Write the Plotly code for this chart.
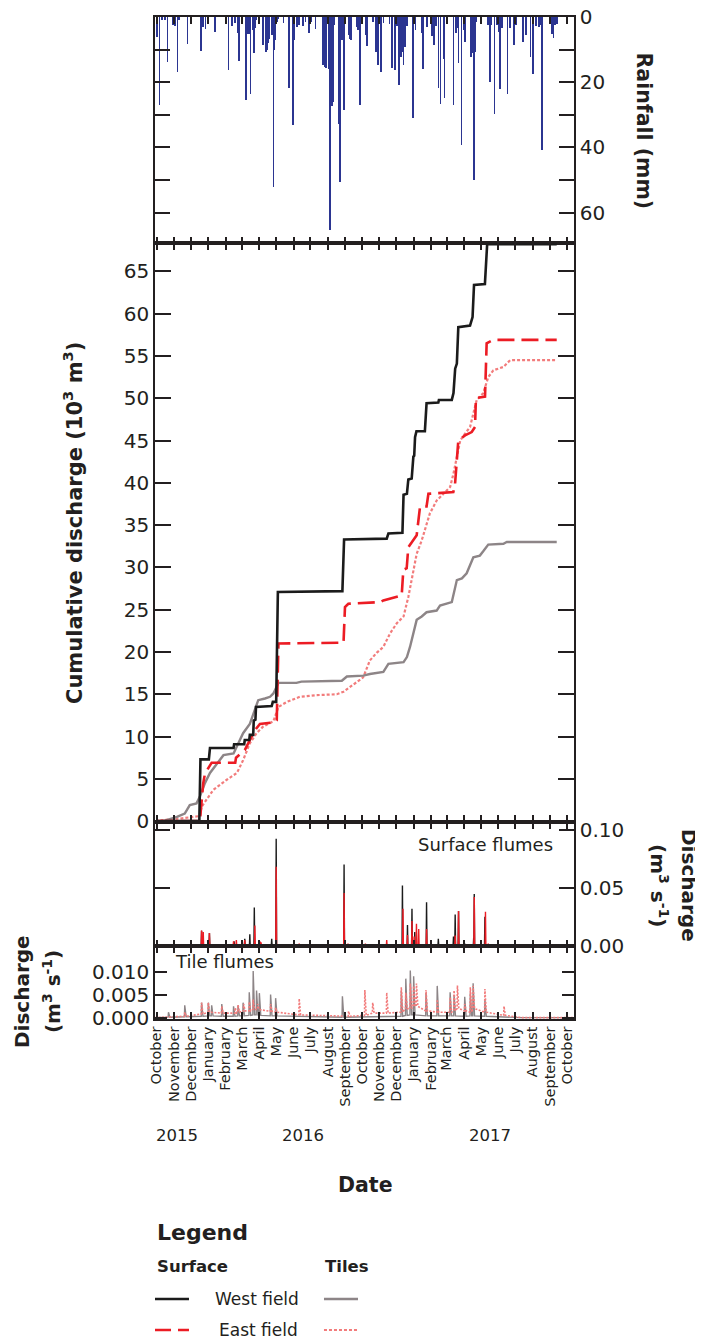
import pandas as pd
import plotly.graph_objects as go
from plotly.subplots import make_subplots

START = pd.Timestamp("2015-10-01")
X_RANGE = ["2015-09-28", "2017-10-13 19:00"]

# ---------------- data (day offsets from 2015-10-01) ----------------
rain_day = [
    1, 5, 9, 15, 19, 29, 33, 37, 40, 55,
    78, 80, 82, 87, 104, 128, 134, 135, 140, 144,
    147, 159, 162, 165, 167, 171, 173, 175, 177, 189,
    195, 197, 199, 201, 206, 208, 210, 211, 214, 217,
    226, 236, 243, 245, 250, 254, 261, 265, 272, 276,
    283, 296, 300, 302, 306, 309, 312, 315, 317, 325,
    327, 330, 334, 342, 345, 346, 357, 359, 362, 364,
    372, 375, 386, 391, 395, 400, 404, 415, 420, 425,
    428, 431, 432, 435, 438, 440, 443, 446, 457, 461,
    473, 475, 482, 491, 494, 498, 502, 506, 511, 513,
    529, 534, 536, 538, 543, 547, 550, 560, 563, 565,
    566, 567, 570, 579, 591, 594, 597, 602, 606, 610,
    612, 615, 625, 630, 637, 640, 653, 658, 666, 671,
    676, 682, 684, 687, 704, 707, 710, 713,
]
rain_mm = [
    6.1, 27, 1, 1, 13.7, 2.5, 2.8, 16.8, 1, 8.4,
    10.4, 10.4, 3, 3.7, 4.7, 16.3, 2.8, 2.8, 1.8, 5,
    13.5, 25.5, 5.3, 5.1, 23.7, 4.1, 11.2, 3.5, 1, 8.6,
    10.7, 10, 8.1, 6.6, 5.5, 52.2, 10.2, 7, 1.5, 0.5,
    1.7, 21.7, 33.2, 7, 3, 2.5, 2.8, 1.4, 4.8, 1.5,
    3.7, 14.8, 15.3, 15.8, 16, 65.5, 27.4, 26.2, 2.5, 32.7,
    50.7, 7, 28.6, 5.5, 6.6, 7, 3, 4, 27, 2,
    5.5, 9, 1.5, 10.7, 14.7, 16.8, 1.8, 2, 15.7, 16.2,
    2.8, 10.2, 20.9, 12.2, 10.7, 14.7, 9.1, 2.8, 30.9, 4,
    4.8, 16, 3, 5.8, 8.6, 2.8, 21.8, 26.7, 13, 24.9,
    27, 5, 3.5, 14.1, 39.4, 4, 7.6, 12.2, 11.2, 50.1,
    20, 10.7, 1.5, 1.8, 2.5, 20, 2.5, 29.7, 2.5, 4.5,
    22, 3.5, 23.5, 3.5, 8.6, 2.5, 7.8, 5.5, 12.4, 17.5,
    2.8, 3, 2.5, 40.7, 5.1, 6.4, 2.5, 2,
]

# Cumulative discharge (10^3 m3)
west_surf_day = [0, 76, 78, 93, 95, 137, 138, 156, 157, 165, 166, 172, 173, 176, 177,
                 205, 207, 213, 216, 331, 334, 410, 413, 438, 440, 446, 448.5, 454.5,
                 457.5, 459, 460.5, 463, 478, 481, 502, 503, 526, 529, 532, 535, 537.6,
                 558.5, 563, 565.6, 585, 589, 713]
west_surf_cum = [0, 0, 7.3, 7.3, 8.65, 8.65, 9.1, 9.1, 9.6, 9.6, 10.2, 10.2, 11.9, 12.0, 13.5,
                 13.6, 14.1, 14.1, 27.1, 27.2, 33.3, 33.4, 34.0, 34.1, 38.6, 38.7, 40.4, 40.5,
                 43.1, 43.2, 45.4, 46.1, 46.1, 49.4, 49.5, 49.8, 49.8, 50.6, 53.5, 54.1, 58.4,
                 58.6, 59.6, 63.4, 63.5, 68.2, 68.2]

east_surf_day = [0, 77, 83, 86, 95, 98, 140, 141.4, 157, 166, 175, 184, 211, 214, 217, 333,
                 335.6, 341.6, 398, 404, 436.7, 439.6, 445.6, 448.5, 457.5, 463.4, 469.4,
                 481, 484.3, 528.7, 531.7, 537.6, 549.5, 561.5, 567.4, 569, 585.2, 588.1,
                 600, 713]
east_surf_cum = [0, 0, 4.5, 5.6, 6.6, 6.9, 6.9, 7.5, 8.4, 9.6, 10.75, 11.5, 11.7, 11.9, 21.0,
                 21.1, 25.3, 25.7, 25.9, 26.1, 26.7, 29.7, 29.9, 32.4, 33.2, 33.8, 37.2, 37.2,
                 38.7, 38.9, 39.8, 45.0, 45.6, 46.0, 46.6, 50.0, 50.2, 56.5, 56.9, 56.9]

west_tile_day = [-2, 12, 36, 50, 59, 71, 77, 86, 95, 107, 119, 137, 145.5, 154, 166, 172, 181,
                 193, 202, 208, 217, 249, 258, 330, 339, 368, 380, 404, 413, 440, 446, 451.5,
                 457.5, 463.4, 472.4, 481, 499, 505, 526, 535, 544, 552.5, 564.4, 576, 582,
                 591, 618, 624, 713]
west_tile_cum = [0, 0, 0.5, 0.9, 1.9, 2.1, 2.9, 4.5, 5.7, 6.8, 7.8, 8.0, 9.2, 10.4, 11.5, 12.7,
                 14.3, 14.5, 14.7, 15.1, 16.35, 16.35, 16.5, 16.6, 17.1, 17.2, 17.4, 17.65, 18.6,
                 18.8, 19.4, 20.6, 22.2, 23.8, 24.2, 24.7, 24.9, 25.5, 25.9, 28.5, 28.7, 29.3,
                 31.2, 31.4, 31.9, 32.7, 32.8, 33.0, 33.0]

east_tile_day = [-2, 6, 40, 77, 80, 89, 101, 125, 143, 154, 166, 178, 190, 208, 217, 232, 255,
                 285, 321, 333, 345, 368, 380, 392, 404, 416, 428, 440, 448.5, 457.5, 463.4,
                 472.4, 487, 499, 511, 523, 529, 535, 541, 549.5, 558.5, 564.4, 570.4, 582,
                 591, 600, 618, 630, 713]
east_tile_cum = [0, 0.1, 0.3, 0.6, 1.7, 2.5, 3.7, 4.9, 5.7, 7.2, 9.2, 10.4, 11.2, 11.8, 13.5,
                 14.1, 14.7, 14.9, 15.0, 15.3, 15.9, 17.0, 19.0, 19.9, 20.6, 22.2, 23.4, 24.2,
                 26.5, 29.7, 31.6, 33.2, 36.4, 37.9, 38.7, 39.5, 41.1, 43.1, 45.0, 45.8, 46.6,
                 48.2, 49.8, 50.6, 52.5, 53.3, 53.7, 54.5, 54.5]

# Surface flume discharge peaks (m3 s-1)
west_peak_day = [80, 94, 138, 157, 166, 174, 184, 205, 213, 334, 438, 447, 455, 460, 481,
                 502, 529, 532, 538, 549, 565, 566, 585]
west_peak = [0.013, 0.011, 0.004, 0.006, 0.010, 0.033, 0.003, 0.006, 0.092, 0.070, 0.052,
             0.018, 0.032, 0.012, 0.0375, 0.006, 0.008, 0.027, 0.030, 0.002, 0.007, 0.0446,
             0.025]
east_peak_day = [80, 83, 94, 137, 142, 157, 175, 184, 186, 213, 254, 334, 341, 372, 410, 439,
                 447, 455, 459, 463, 467, 481, 532, 538, 566, 586, 591]
east_peak = [0.0131, 0.012, 0.011, 0.004, 0.005, 0.005, 0.0175, 0.004, 0.003, 0.068, 0.002,
             0.0455, 0.002, 0.002, 0.005, 0.032, 0.0094, 0.0214, 0.008, 0.019, 0.0146, 0.0146,
             0.009, 0.030, 0.042, 0.0294, 0.002]

# Tile flume discharge events (m3 s-1): day, peak, base level around the event
west_tev_day = [21, 50, 80, 92, 98, 116, 137, 145, 154, 165,
                172, 178, 183, 203, 212, 331, 436, 444, 452, 458,
                480, 500, 523, 530, 549, 559, 564, 585]
west_tev_peak = [0.0012, 0.0027, 0.0033, 0.0033, 0.0027, 0.0030, 0.0025, 0.0027, 0.0033, 0.0056,
                 0.0103, 0.0060, 0.0054, 0.0051, 0.0043, 0.0047, 0.0060, 0.0086, 0.0104, 0.0091,
                 0.0055, 0.0070, 0.0056, 0.0050, 0.0046, 0.0055, 0.0076, 0.0040]
west_tev_base = [0.0001, 0.0002, 0.0003, 0.0004, 0.0004, 0.0003, 0.0003, 0.0004, 0.0004, 0.0005,
                 0.0006, 0.0006, 0.0005, 0.0004, 0.0004, 0.0001, 0.0003, 0.0005, 0.0006, 0.0006,
                 0.0004, 0.0004, 0.0004, 0.0004, 0.0003, 0.0004, 0.0004, 0.0003]
east_tev_day = [50, 80, 92, 116, 140, 145, 155, 165, 172, 180,
                203, 212, 254, 342, 371, 385, 410, 436, 444, 452,
                458, 463, 480, 500, 523, 530, 536, 549, 559, 564,
                585, 619]
east_tev_peak = [0.0012, 0.0033, 0.0033, 0.0025, 0.0022, 0.0028, 0.0030, 0.0035, 0.0040, 0.0030,
                 0.0030, 0.0022, 0.0042, 0.0014, 0.0061, 0.0033, 0.0055, 0.0067, 0.0055, 0.0075,
                 0.0070, 0.0075, 0.0061, 0.0040, 0.0045, 0.0060, 0.0071, 0.0030, 0.0067, 0.0070,
                 0.0063, 0.0025]
east_tev_base = [0.0003, 0.0008, 0.0012, 0.0010, 0.0010, 0.0012, 0.0015, 0.0015, 0.0018, 0.0018,
                 0.0014, 0.0012, 0.0006, 0.0003, 0.0005, 0.0010, 0.0010, 0.0012, 0.0020, 0.0020,
                 0.0025, 0.0025, 0.0015, 0.0012, 0.0012, 0.0015, 0.0020, 0.0015, 0.0012, 0.0020,
                 0.0012, 0.0005]

month_ticks = pd.date_range("2015-10-01", "2017-10-01", freq="MS")
month_labels = [d.strftime("%B") for d in month_ticks]
year_labels = ["2015", "2016", "2017"]

# ---------------- helpers ----------------
def dates(days):
    return START + pd.to_timedelta(days, unit="D")


def spike_series(days, peaks):
    xs, ys = [-3.0], [0.0]
    for d, p in sorted(zip(days, peaks)):
        xs += [d - 0.7, d, d + 0.7]
        ys += [0.0, p, 0.0]
    xs.append(744.0)
    ys.append(0.0)
    return xs, ys


def event_series(days, peaks, bases):
    xs, ys = [-3.0], [0.0]
    for d, p, b in zip(days, peaks, bases):
        xs += [d - 0.6, d, d + 2.5]
        ys += [b, p, b]
    xs += [650.0, 744.0]
    ys += [0.0, 0.0]
    return xs, ys


INK = "#231f20"
FONT = "DejaVu Sans"
BLACK = "#1b1b1b"
RED = "#ec1c24"
GRAY = "#8d8587"
PINK = "#f27c7c"
BLUE = "#2b3591"

fig = make_subplots(rows=4, cols=1, shared_xaxes=True, vertical_spacing=0)

# rainfall
fig.add_trace(go.Bar(x=dates(rain_day), y=rain_mm, width=1.2 * 86400000,
                     marker=dict(color=BLUE, line=dict(width=0)), showlegend=False),
              row=1, col=1)

# cumulative
fig.add_trace(go.Scatter(x=dates(east_tile_day), y=east_tile_cum, mode="lines",
                         line=dict(color=PINK, width=2.2, dash="3px,2px"), showlegend=False),
              row=2, col=1)
fig.add_trace(go.Scatter(x=dates(west_tile_day), y=west_tile_cum, mode="lines",
                         line=dict(color=GRAY, width=2.4), showlegend=False), row=2, col=1)
fig.add_trace(go.Scatter(x=dates(east_surf_day), y=east_surf_cum, mode="lines",
                         line=dict(color=RED, width=2.6, dash="17px,7px"), showlegend=False),
              row=2, col=1)
fig.add_trace(go.Scatter(x=dates(west_surf_day), y=west_surf_cum, mode="lines",
                         line=dict(color=BLACK, width=2.6), showlegend=False), row=2, col=1)

# surface flumes
wx, wy = spike_series(west_peak_day, west_peak)
ex, ey = spike_series(east_peak_day, east_peak)
fig.add_trace(go.Scatter(x=dates(wx), y=wy, mode="lines", line=dict(color=BLACK, width=1.4),
                         showlegend=False), row=3, col=1)
fig.add_trace(go.Scatter(x=dates(ex), y=ey, mode="lines", line=dict(color=RED, width=1.4),
                         showlegend=False), row=3, col=1)

# tile flumes
twx, twy = event_series(west_tev_day, west_tev_peak, west_tev_base)
tex, tey = event_series(east_tev_day, east_tev_peak, east_tev_base)
fig.add_trace(go.Scatter(x=dates(twx), y=twy, mode="lines",
                         line=dict(color=GRAY, width=1.4), showlegend=False), row=4, col=1)
fig.add_trace(go.Scatter(x=dates(tex), y=tey, mode="lines",
                         line=dict(color=PINK, width=1.6, dash="2px,1.5px"), showlegend=False),
              row=4, col=1)

# ---------------- axes ----------------
doms = {1: [0.774, 1.0], 2: [0.1966, 0.774], 3: [0.0724, 0.1966], 4: [0.0, 0.0724]}
for r in range(1, 5):
    fig.update_yaxes(domain=doms[r], row=r, col=1)
    fig.update_xaxes(range=X_RANGE, tickvals=month_ticks, ticktext=month_labels,
                     ticks="inside", ticklen=7, tickwidth=1.5, tickcolor=INK,
                     showline=True, linecolor=INK, linewidth=1.5, mirror="ticks",
                     showgrid=False, zeroline=False, automargin=False,
                     showticklabels=(r == 4), row=r, col=1)

fig.update_xaxes(tickangle=-90, tickfont=dict(family=FONT, size=14.5, color=INK), row=4, col=1)

common_y = dict(ticks="inside", tickwidth=1.5, tickcolor=INK, showline=True, linecolor=INK,
                linewidth=1.5, mirror="ticks", showgrid=False, zeroline=False, automargin=False,
                ticklabeloverflow="allow", tickfont=dict(family=FONT, size=20, color=INK))

fig.update_yaxes(range=[69.5, 0], side="right", tickvals=[0, 20, 40, 60], ticklen=15,
                 minor=dict(tickvals=[10, 30, 50], ticks="inside", ticklen=15, tickwidth=1.5,
                            tickcolor=INK),
                 row=1, col=1, **common_y)
fig.update_yaxes(range=[-0.1, 68.3], side="left", tickvals=list(range(0, 70, 5)), ticklen=16,
                 row=2, col=1, **common_y)
fig.update_yaxes(range=[-0.0005, 0.1065], side="right", tickvals=[0, 0.05, 0.1],
                 ticktext=["0.00", "0.05", "0.10"], ticklen=15, row=3, col=1, **common_y)
fig.update_yaxes(range=[-0.0003, 0.0157], side="left", tickvals=[0, 0.005, 0.01],
                 ticktext=["0.000", "0.005", "0.010"], ticklen=12, row=4, col=1, **common_y)

# ---------------- annotations ----------------
ann = []


def txt(text, x, y, size, xanchor="center", yanchor="middle", angle=0):
    ann.append(dict(text=text, x=x, y=y, xref="paper", yref="paper", showarrow=False,
                    xanchor=xanchor, yanchor=yanchor, textangle=angle,
                    font=dict(family=FONT, size=size, color=INK)))


txt("<b>Rainfall (mm)</b>", 1.167, 0.8857, 20.5, angle=90)
txt("<b>Cumulative discharge (10<sup>3</sup> m<sup>3</sup>)</b>", -0.1957, 0.495, 21, angle=-90)
txt("<b>Discharge</b>", 1.2745, 0.1337, 20, angle=90)
txt("<b>(m<sup>3</sup> s<sup>-1</sup>)</b>", 1.2029, 0.1337, 20, angle=90)
txt("<b>Discharge</b>", -0.3174, 0.0269, 20, angle=-90)
txt("<b>(m<sup>3</sup> s<sup>-1</sup>)</b>", -0.2458, 0.0269, 20, angle=-90)
txt("Surface flumes", 0.955, 0.1737, 18, xanchor="right")
txt("Tile flumes", 0.043, 0.0569, 18, xanchor="left")
for lab, xp in zip(year_labels, [0.0525, 0.3532, 0.7995]):
    txt(lab, xp, -0.1158, 16.5)
txt("<b>Date</b>", 0.5012, -0.1657, 20.5)
txt("<b>Legend</b>", 0.0, -0.2126, 22, xanchor="left")
txt("<b>Surface</b>", 0.0, -0.2475, 16.5, xanchor="left")
txt("<b>Tiles</b>", 0.401, -0.2475, 16.5, xanchor="left")
txt("West field", 0.1384, -0.2794, 17, xanchor="left")
txt("East field", 0.148, -0.3104, 17, xanchor="left")

shapes = [
    dict(type="line", xref="paper", yref="paper", x0=0.0, x1=0.0811, y0=-0.2794, y1=-0.2794,
         line=dict(color=BLACK, width=2.6)),
    dict(type="line", xref="paper", yref="paper", x0=0.4033, x1=0.4845, y0=-0.2794, y1=-0.2794,
         line=dict(color=GRAY, width=2.4)),
    dict(type="line", xref="paper", yref="paper", x0=0.0, x1=0.0811, y0=-0.3104, y1=-0.3104,
         line=dict(color=RED, width=2.6, dash="16px,7px")),
    dict(type="line", xref="paper", yref="paper", x0=0.4033, x1=0.4845, y0=-0.3104, y1=-0.3104,
         line=dict(color=PINK, width=2.2, dash="3px,2px")),
]

# The page body adds an 8 px margin, so the figure is 8 px smaller and margins shifted.
fig.update_layout(width=695, height=1333,
                  margin=dict(l=147, r=129, t=9, b=322, autoexpand=False),
                  plot_bgcolor="white", paper_bgcolor="white", bargap=0,
                  annotations=ann, shapes=shapes, showlegend=False,
                  font=dict(family=FONT, color=INK))

fig.write_html("out.html")
